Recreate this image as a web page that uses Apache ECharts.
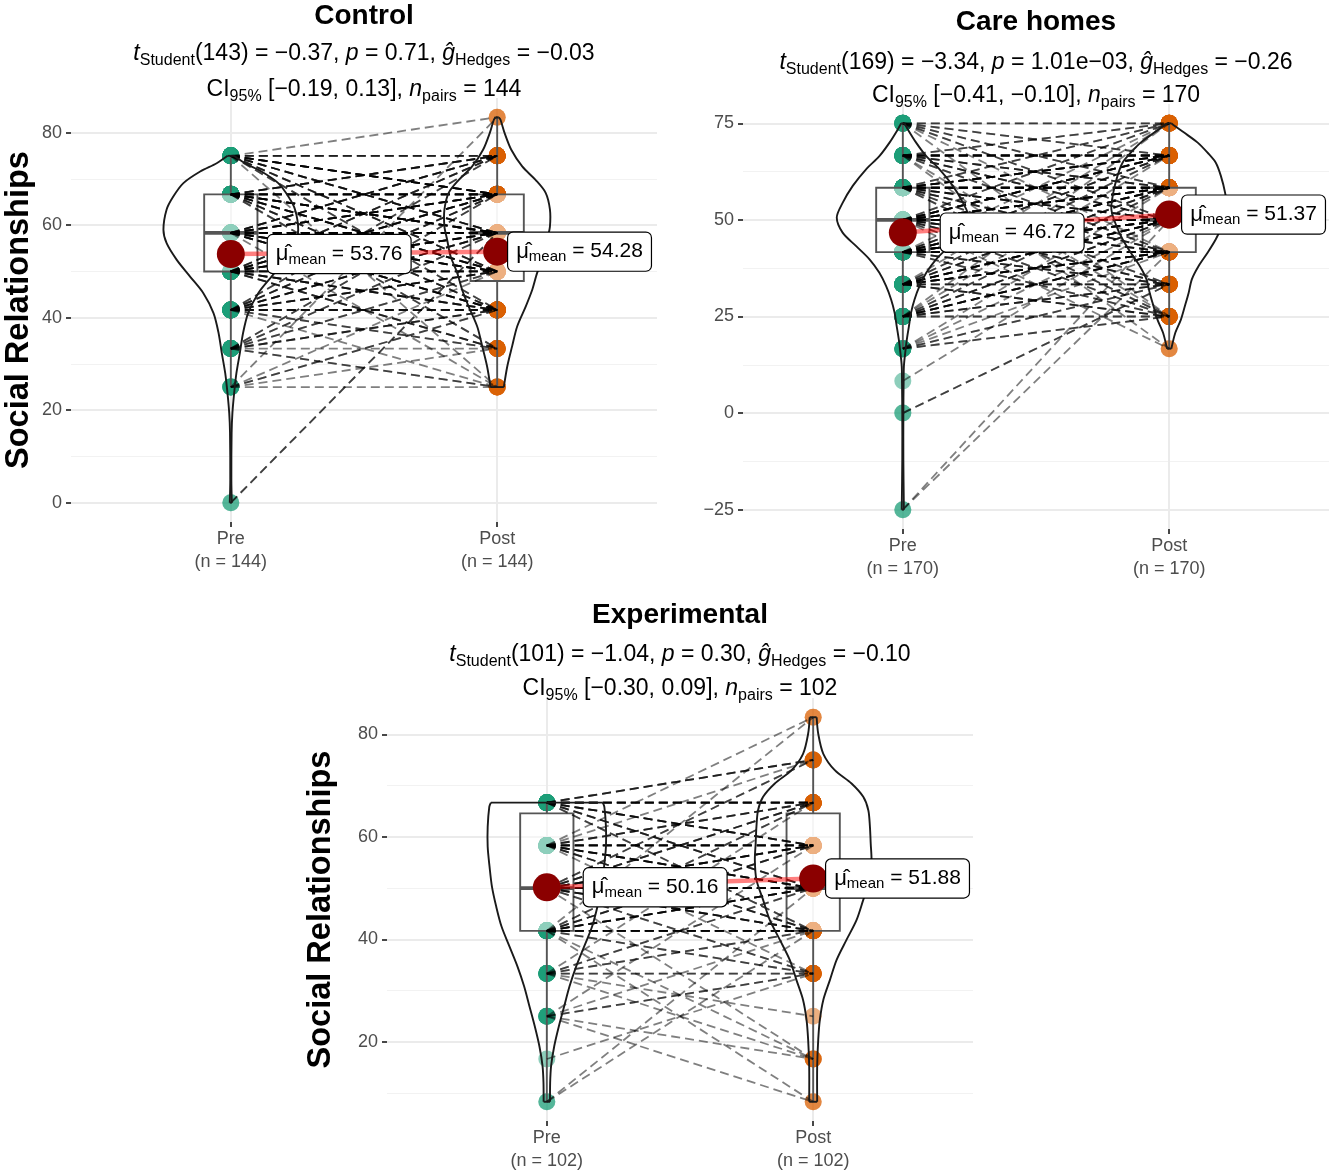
<!DOCTYPE html>
<html>
<head>
<meta charset="utf-8">
<script src="https://cdn.jsdelivr.net/npm/echarts@6/dist/echarts.min.js"></script>
<style>
html,body{margin:0;padding:0;background:#ffffff;}
#chart{width:1333px;height:1174px;}
</style>
</head>
<body>
<div id="chart"></div>
<script>
// ---------------- DATA ----------------
const categories = ['Pre', 'Post'];
const panelTitles = ['Control', 'Care homes', 'Experimental'];
const sampleSizes = [144, 170, 102];
const yAxisTitle = 'Social Relationships';

// test statistics shown in subtitles
const dfs = [143, 169, 101];
const tStudent = [-0.37, -3.34, -1.04];
const pValues = ['0.71', '1.01e\u221203', '0.30'];
const gHedges = [-0.03, -0.26, -0.10];
const ciLow = [-0.19, -0.41, -0.30];
const ciHigh = [0.13, -0.10, 0.09];
const nPairs = [144, 170, 102];

// y axis ticks
const controlTicks = [0, 20, 40, 60, 80];
const controlMinor = [10, 30, 50, 70];
const careTicks = [-25, 0, 25, 50, 75];
const careMinor = [-12.5, 12.5, 37.5, 62.5];
const expTicks = [20, 40, 60, 80];
const expMinor = [10, 30, 50, 70];

// y axis ranges (data range + 5%)
const controlRange = [-4.17, 87.5];
const careRange = [-30, 80];
const expRange = [4.58, 87.08];

// paired observations: [pre, post, number of participants]
const controlPairs = [
  [0, 58.33, 2],
  [25, 25, 1], [25, 33.33, 1], [25, 41.67, 2], [25, 50, 1], [25, 83.33, 1],
  [33.33, 25, 2], [33.33, 33.33, 1], [33.33, 41.67, 3], [33.33, 50, 2], [33.33, 58.33, 2], [33.33, 66.67, 2],
  [41.67, 25, 1], [41.67, 33.33, 2], [41.67, 41.67, 4], [41.67, 50, 4], [41.67, 58.33, 4], [41.67, 66.67, 3], [41.67, 75, 2],
  [50, 33.33, 3], [50, 41.67, 4], [50, 50, 5], [50, 58.33, 6], [50, 66.67, 5], [50, 75, 3],
  [58.33, 25, 1], [58.33, 41.67, 5], [58.33, 50, 6], [58.33, 58.33, 8], [58.33, 66.67, 6], [58.33, 75, 4],
  [66.67, 33.33, 2], [66.67, 41.67, 3], [66.67, 50, 5], [66.67, 58.33, 7], [66.67, 66.67, 7], [66.67, 75, 4],
  [75, 25, 1], [75, 41.67, 2], [75, 50, 3], [75, 58.33, 4], [75, 66.67, 6], [75, 75, 3], [75, 83.33, 1]
];
const carePairs = [
  [-25, 41.67, 1], [-25, 50, 1],
  [0, 33.33, 2],
  [8.33, 50, 1],
  [16.67, 25, 2], [16.67, 33.33, 2], [16.67, 41.67, 1], [16.67, 50, 1], [16.67, 58.33, 1],
  [25, 25, 2], [25, 33.33, 3], [25, 41.67, 5], [25, 50, 3], [25, 58.33, 2], [25, 66.67, 1], [25, 75, 1],
  [33.33, 25, 3], [33.33, 33.33, 3], [33.33, 41.67, 6], [33.33, 50, 6], [33.33, 58.33, 3], [33.33, 66.67, 2], [33.33, 75, 1],
  [41.67, 25, 2], [41.67, 33.33, 3], [41.67, 41.67, 7], [41.67, 50, 8], [41.67, 58.33, 6], [41.67, 66.67, 3], [41.67, 75, 1],
  [50, 16.67, 1], [50, 25, 2], [50, 33.33, 3], [50, 41.67, 4], [50, 50, 8], [50, 58.33, 7], [50, 66.67, 6], [50, 75, 2],
  [58.33, 25, 2], [58.33, 33.33, 2], [58.33, 41.67, 3], [58.33, 50, 4], [58.33, 58.33, 7], [58.33, 66.67, 6], [58.33, 75, 2],
  [66.67, 16.67, 1], [66.67, 25, 1], [66.67, 41.67, 2], [66.67, 50, 3], [66.67, 58.33, 3], [66.67, 66.67, 6], [66.67, 75, 2],
  [75, 25, 1], [75, 41.67, 1], [75, 50, 2], [75, 58.33, 2], [75, 66.67, 2], [75, 75, 2]
];
const expPairs = [
  [8.33, 41.67, 1], [8.33, 50, 1],
  [16.67, 33.33, 1],
  [25, 8.33, 1], [25, 16.67, 1], [25, 33.33, 2], [25, 41.67, 1], [25, 58.33, 1],
  [33.33, 16.67, 1], [33.33, 25, 1], [33.33, 33.33, 2], [33.33, 41.67, 2], [33.33, 50, 2], [33.33, 66.67, 1],
  [41.67, 8.33, 1], [41.67, 16.67, 1], [41.67, 33.33, 2], [41.67, 41.67, 6], [41.67, 50, 5], [41.67, 58.33, 3], [41.67, 66.67, 2], [41.67, 83.33, 1],
  [50, 16.67, 1], [50, 33.33, 2], [50, 41.67, 4], [50, 50, 8], [50, 58.33, 5], [50, 66.67, 3], [50, 75, 2],
  [58.33, 33.33, 1], [58.33, 41.67, 3], [58.33, 50, 5], [58.33, 58.33, 6], [58.33, 66.67, 3], [58.33, 75, 1], [58.33, 83.33, 1],
  [66.67, 41.67, 2], [66.67, 50, 3], [66.67, 58.33, 4], [66.67, 66.67, 6], [66.67, 75, 3]
];

// means [Pre, Post]
const controlMeans = [53.76, 54.28];
const careMeans = [46.72, 51.37];
const expMeans = [50.16, 51.88];

// boxplot stats [min, Q1, median, Q3, max] for Pre and Post
const controlBox = [[25, 50, 58.33, 66.67, 75], [25, 47.92, 58.33, 66.67, 83.33]];
const careBox = [[16.67, 41.67, 50, 58.33, 75], [16.67, 41.67, 50, 58.33, 75]];
const expBox = [[8.33, 41.67, 50, 64.58, 66.67], [8.33, 41.67, 50, 64.58, 83.33]];

// violin outlines: [value, half width in category units], top to bottom
const controlViolinPre = [[75,0.012],[73.4,0.053],[71.6,0.115],[69.1,0.178],[66.2,0.216],[63.4,0.241],[59,0.253],[56.1,0.241],[52.5,0.203],[48.9,0.153],[45.3,0.103],[41,0.065],[36.7,0.046],[32.4,0.034],[28,0.021],[23.7,0.0125],[19.4,0.006],[15.1,0.003],[5,0.002],[0,0.004]];
const controlViolinPost = [[83.33,0.006],[82.8,0.0125],[79.9,0.028],[76.3,0.053],[72.7,0.094],[69.8,0.144],[67,0.182],[63.4,0.198],[59.7,0.198],[56.9,0.188],[53.3,0.175],[49.7,0.15],[46.1,0.132],[42.4,0.107],[38.1,0.075],[33.8,0.056],[29.5,0.038],[25,0.025]];
const careViolinPre = [[75,0.006],[73.4,0.019],[70,0.05],[66.5,0.088],[63.1,0.138],[58.8,0.188],[54.4,0.226],[50.6,0.248],[46.7,0.226],[43.2,0.175],[39.8,0.125],[36.3,0.088],[32.9,0.063],[29.4,0.044],[26,0.031],[22.5,0.023],[19,0.015],[15.6,0.009],[12.1,0.004],[7.8,0.003],[0,0.002],[-12,0.002],[-25,0.004]];
const careViolinPost = [[75,0.008],[74.3,0.021],[72.6,0.056],[70,0.107],[67.4,0.144],[64.8,0.175],[61.4,0.194],[57,0.21],[52.7,0.217],[48.4,0.198],[45,0.175],[41.5,0.144],[38,0.11],[34.6,0.085],[31.1,0.073],[27.7,0.059],[24.2,0.044],[20.8,0.023],[17.3,0.01],[16.67,0.008]];
const expViolinPre = [[66.67,0.21],[65.85,0.216],[61.96,0.222],[58.07,0.222],[54.18,0.215],[50.29,0.206],[46.4,0.19],[42.5,0.17],[38.6,0.14],[34.7,0.11],[30.8,0.085],[26.9,0.065],[23,0.045],[19.2,0.028],[15.3,0.016],[12,0.0125],[8.33,0.012]];
const expViolinPost = [[83.33,0.013],[80.1,0.019],[76.2,0.038],[73,0.081],[70.4,0.144],[67.8,0.188],[65.2,0.207],[62,0.213],[58.7,0.216],[55.5,0.219],[51.6,0.213],[47.7,0.188],[43.8,0.163],[39.9,0.125],[36,0.088],[32.1,0.063],[28.2,0.038],[24.3,0.025],[20.5,0.019],[15.3,0.015],[8.33,0.015]];

// ---------------- LAYOUT / STYLE ----------------
const FONT = '"Liberation Sans", Arial, Helvetica, sans-serif';
const panels = [
  { idx: 0, ticks: controlTicks, minor: controlMinor, range: controlRange, pairs: controlPairs, means: controlMeans, box: controlBox,
    violins: [controlViolinPre, controlViolinPost], grid: {left: 71, top: 98, width: 586, height: 424},
    titleY: [16, 54, 90], yName: true, nameGap: 35, labelOffsets: [[23, 0], [-3, 0]] },
  { idx: 1, ticks: careTicks, minor: careMinor, range: careRange, pairs: carePairs, means: careMeans, box: careBox,
    violins: [careViolinPre, careViolinPost], grid: {left: 743, top: 104, width: 586, height: 425},
    titleY: [22, 63, 96], yName: false, nameGap: 0, labelOffsets: [[24, 0], [-1, 0]] },
  { idx: 2, ticks: expTicks, minor: expMinor, range: expRange, pairs: expPairs, means: expMeans, box: expBox,
    violins: [expViolinPre, expViolinPost], grid: {left: 387, top: 698, width: 586, height: 423},
    titleY: [615, 655, 689], yName: true, nameGap: 49, labelOffsets: [[23, 0], [-1, 0]] }
];

function fmt(v) { return (v < 0 ? '\u2212' : '') + Math.abs(v).toFixed(2); }
function minusLabel(v) { return String(v).replace('-', '\u2212'); }
function expandPairs(pairs) {
  const rows = [];
  pairs.forEach(function (p) { for (let k = 0; k < p[2]; k++) rows.push([p[0], p[1]]); });
  return rows;
}

const subRich = {
  n: { fontSize: 23, fontFamily: FONT, fill: '#000', lineHeight: 29 },
  it: { fontSize: 23, fontFamily: FONT, fontStyle: 'italic', fill: '#000', lineHeight: 29 },
  sub: { fontSize: 16, fontFamily: FONT, fill: '#000', lineHeight: 16, padding: [13, 0, 0, 0] }
};

const grids = [], xAxes = [], yAxes = [], series = [], graphics = [];

panels.forEach(function (P) {
  const i = P.idx;
  const cx = P.grid.left + P.grid.width / 2;
  grids.push(Object.assign({containLabel: false}, P.grid));
  const n = sampleSizes[i];

  xAxes.push({
    type: 'value', gridIndex: i, min: 0.4, max: 2.6,
    axisLine: {show: false, onZero: false},
    axisTick: {show: true, customValues: [1, 2], length: 5, lineStyle: {color: '#333333', width: 1.8}},
    axisLabel: {customValues: [1, 2], color: '#4d4d4d', fontSize: 18, lineHeight: 23, margin: 6, fontFamily: FONT,
      formatter: function (v) { return categories[Math.round(v) - 1] + '\n(n = ' + n + ')'; }},
    splitLine: {show: true, lineStyle: {color: '#ebebeb', width: 2}}
  });
  yAxes.push({
    type: 'value', gridIndex: i, min: P.range[0], max: P.range[1],
    axisLine: {show: false, onZero: false},
    axisTick: {show: true, customValues: P.ticks, length: 5, lineStyle: {color: '#333333', width: 1.8}},
    axisLabel: {customValues: P.ticks, color: '#4d4d4d', fontSize: 18, margin: 9, fontFamily: FONT, formatter: minusLabel},
    splitLine: {show: true, lineStyle: {color: '#ebebeb', width: 2}},
    name: P.yName ? yAxisTitle : '', nameLocation: 'middle', nameGap: P.nameGap,
    nameTextStyle: {fontSize: 32.5, fontWeight: 'bold', color: '#000', fontFamily: FONT}
  });
  yAxes.push({
    type: 'value', gridIndex: i, min: P.range[0], max: P.range[1],
    axisLine: {show: false, onZero: false},
    axisTick: {show: false, customValues: P.minor},
    axisLabel: {show: false, customValues: P.minor},
    splitLine: {show: true, lineStyle: {color: '#f2f2f2', width: 1.2}}
  });
  const yi = i * 2;

  // titles
  graphics.push({type: 'text', x: cx, y: P.titleY[0], z: 100,
    style: {text: panelTitles[i], fontSize: 28, fontWeight: 'bold', fontFamily: FONT, fill: '#000', align: 'center', verticalAlign: 'middle'}});
  graphics.push({type: 'text', x: cx, y: P.titleY[1], z: 100,
    style: {text: '{it|t}{sub|Student}{n|(' + dfs[i] + ') = ' + fmt(tStudent[i]) + ', }{it|p}{n| = ' + pValues[i] + ', }{it|\u011d}{sub|Hedges}{n| = ' + fmt(gHedges[i]) + '}',
      rich: subRich, fontSize: 23, fontFamily: FONT, align: 'center', verticalAlign: 'middle'}});
  graphics.push({type: 'text', x: cx, y: P.titleY[2], z: 100,
    style: {text: '{n|CI}{sub|95%}{n| [' + fmt(ciLow[i]) + ', ' + fmt(ciHigh[i]) + '], }{it|n}{sub|pairs}{n| = ' + nPairs[i] + '}',
      rich: subRich, fontSize: 23, fontFamily: FONT, align: 'center', verticalAlign: 'middle'}});

  const rows = expandPairs(P.pairs);

  // individual points
  series.push({type: 'scatter', xAxisIndex: i, yAxisIndex: yi, z: 2, silent: true, clip: false,
    symbolSize: 17, itemStyle: {color: '#1B9E77', opacity: 0.5},
    data: rows.map(function (r) { return [1, r[0]]; })});
  series.push({type: 'scatter', xAxisIndex: i, yAxisIndex: yi, z: 2, silent: true, clip: false,
    symbolSize: 17, itemStyle: {color: '#D95F02', opacity: 0.5},
    data: rows.map(function (r) { return [2, r[1]]; })});

  // boxplots
  series.push({type: 'custom', xAxisIndex: i, yAxisIndex: yi, z: 3, silent: true,
    data: P.box.map(function (b, k) { return [k + 1].concat(b); }),
    encode: {x: 0, y: [1, 2, 3, 4, 5]},
    renderItem: function (params, api) {
      const x = api.value(0), mn = api.value(1), q1 = api.value(2), md = api.value(3), q3 = api.value(4), mx = api.value(5);
      const hw = 0.1;
      const tl = api.coord([x - hw, q3]), br = api.coord([x + hw, q1]);
      const pMax = api.coord([x, mx]), pQ3 = api.coord([x, q3]), pQ1 = api.coord([x, q1]), pMin = api.coord([x, mn]);
      const mL = api.coord([x - hw, md]), mR = api.coord([x + hw, md]);
      const st = {stroke: '#555555', lineWidth: 1.9};
      return {type: 'group', children: [
        {type: 'line', shape: {x1: pQ3[0], y1: pQ3[1], x2: pMax[0], y2: pMax[1]}, style: st},
        {type: 'line', shape: {x1: pQ1[0], y1: pQ1[1], x2: pMin[0], y2: pMin[1]}, style: st},
        {type: 'rect', shape: {x: tl[0], y: tl[1], width: br[0] - tl[0], height: br[1] - tl[1]},
          style: {fill: 'rgba(255,255,255,0.5)', stroke: '#555555', lineWidth: 1.9}},
        {type: 'line', shape: {x1: mL[0], y1: mL[1], x2: mR[0], y2: mR[1]}, style: {stroke: '#555555', lineWidth: 3.8}}
      ]};
    }});

  // paired dashed lines
  series.push({type: 'custom', xAxisIndex: i, yAxisIndex: yi, z: 4, silent: true,
    data: rows,
    encode: {x: -1, y: [0, 1]},
    renderItem: function (params, api) {
      const a = api.coord([1, api.value(0)]), b = api.coord([2, api.value(1)]);
      return {type: 'line', shape: {x1: a[0], y1: a[1], x2: b[0], y2: b[1]},
        style: {stroke: 'rgba(0,0,0,0.5)', lineWidth: 1.8, lineDash: [9, 5]}};
    }});

  // violins
  series.push({type: 'custom', xAxisIndex: i, yAxisIndex: yi, z: 5, silent: true,
    data: [[1], [2]],
    encode: {x: 0},
    renderItem: function (params, api) {
      const xc = api.value(0);
      const prof = P.violins[params.dataIndex];
      const right = prof.map(function (d) { return api.coord([xc + d[1], d[0]]); });
      const left = prof.map(function (d) { return api.coord([xc - d[1], d[0]]); });
      const st = {stroke: '#1a1a1a', lineWidth: 1.9, fill: null};
      const last = prof.length - 1;
      return {type: 'group', children: [
        {type: 'polyline', shape: {points: right, smooth: 0.3}, style: st},
        {type: 'polyline', shape: {points: left, smooth: 0.3}, style: st},
        {type: 'line', shape: {x1: left[0][0], y1: left[0][1], x2: right[0][0], y2: right[0][1]}, style: st},
        {type: 'line', shape: {x1: left[last][0], y1: left[last][1], x2: right[last][0], y2: right[last][1]}, style: st}
      ]};
    }});

  // mean path
  series.push({type: 'line', xAxisIndex: i, yAxisIndex: yi, z: 6, silent: true, symbol: 'none',
    lineStyle: {color: 'rgba(255,0,0,0.5)', width: 4.5},
    data: [[1, P.means[0]], [2, P.means[1]]]});

  // mean points + labels
  series.push({type: 'scatter', xAxisIndex: i, yAxisIndex: yi, z: 10, silent: true, clip: false,
    symbolSize: 28, itemStyle: {color: '#8B0000', opacity: 1},
    label: {show: true, position: 'right', distance: 0,
      formatter: function (p) { return '{h|\u03bc\u0302}{s|mean}{n| = ' + p.value[1].toFixed(2) + '}'; },
      backgroundColor: '#ffffff', borderColor: '#000000', borderWidth: 1.2, borderRadius: 5, padding: [6, 8, 6, 8],
      rich: {
        h: {fontSize: 22, fontFamily: FONT, color: '#000', lineHeight: 26},
        n: {fontSize: 21, fontFamily: FONT, color: '#000', lineHeight: 26},
        s: {fontSize: 15, fontFamily: FONT, color: '#000', lineHeight: 15, padding: [11, 0, 0, 0]}
      }},
    data: [
      {value: [1, P.means[0]], label: {offset: P.labelOffsets[0]}},
      {value: [2, P.means[1]], label: {offset: P.labelOffsets[1]}}
    ]});
});

const chart = echarts.init(document.getElementById('chart'));
chart.setOption({
  animation: false,
  backgroundColor: '#ffffff',
  textStyle: {fontFamily: FONT},
  grid: grids,
  xAxis: xAxes,
  yAxis: yAxes,
  series: series,
  graphic: graphics
});
</script>
</body>
</html>
